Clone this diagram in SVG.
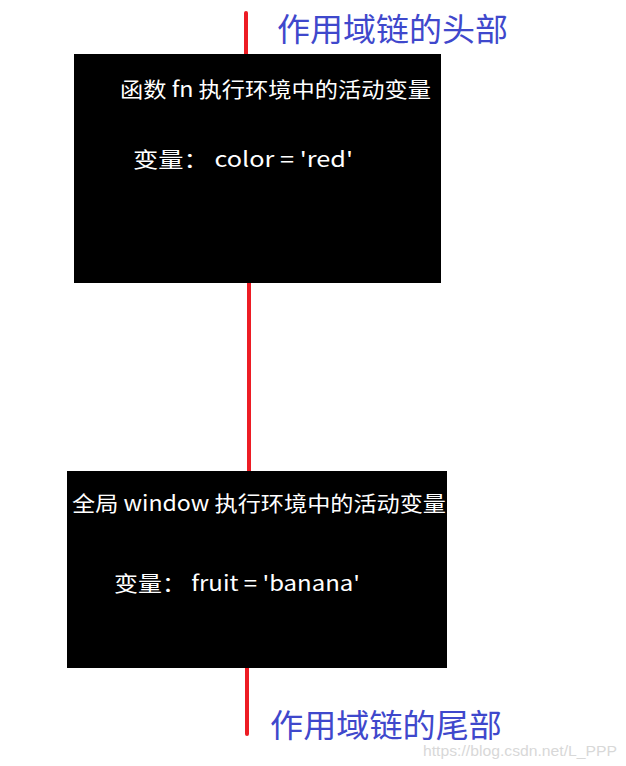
<svg xmlns="http://www.w3.org/2000/svg" width="626" height="766" viewBox="0 0 626 766">
<style>
.box{fill:#000}
.t{fill:#fff;font-family:"Noto Sans CJK SC","Liberation Sans",sans-serif;font-size:21px}
.lbl{fill:#3f48cc;font-family:"Noto Sans CJK SC",sans-serif;font-size:32px}
.ln{stroke:#ed1c24;stroke-width:4;stroke-linecap:round;fill:none}
.wm{fill:#d8d8d8;font-family:"Liberation Sans",sans-serif;font-size:14px}
</style>
<rect width="626" height="766" fill="#fff"/>
<g id="connectors">
<line class="ln" x1="246" y1="13" x2="246" y2="54"/>
<line class="ln" x1="249" y1="283" x2="249" y2="471"/>
<line class="ln" x1="247" y1="668" x2="247" y2="734"/>
</g>
<g id="head-label"><text class="lbl" x="277" y="41" textLength="231" lengthAdjust="spacingAndGlyphs">作用域链的头部</text></g>
<g id="fn-context">
<rect class="box" x="74" y="54" width="367" height="229"/>
<text class="t" x="120" y="97" textLength="311" lengthAdjust="spacingAndGlyphs">函数 fn 执行环境中的活动变量</text>
<text class="t" x="133" y="167" textLength="220" lengthAdjust="spacingAndGlyphs">变量：  color = 'red'</text>
</g>
<g id="global-context">
<rect class="box" x="67" y="471" width="380" height="197"/>
<text class="t" x="72" y="511" textLength="374" lengthAdjust="spacingAndGlyphs">全局 window 执行环境中的活动变量</text>
<text class="t" x="114" y="591" textLength="246" lengthAdjust="spacingAndGlyphs">变量： fruit = 'banana'</text>
</g>
<g id="tail-label"><text class="lbl" x="270" y="737" textLength="232" lengthAdjust="spacingAndGlyphs">作用域链的尾部</text></g>
<text class="wm" x="423" y="756" textLength="194" lengthAdjust="spacingAndGlyphs">https://blog.csdn.net/L_PPP</text>
</svg>
